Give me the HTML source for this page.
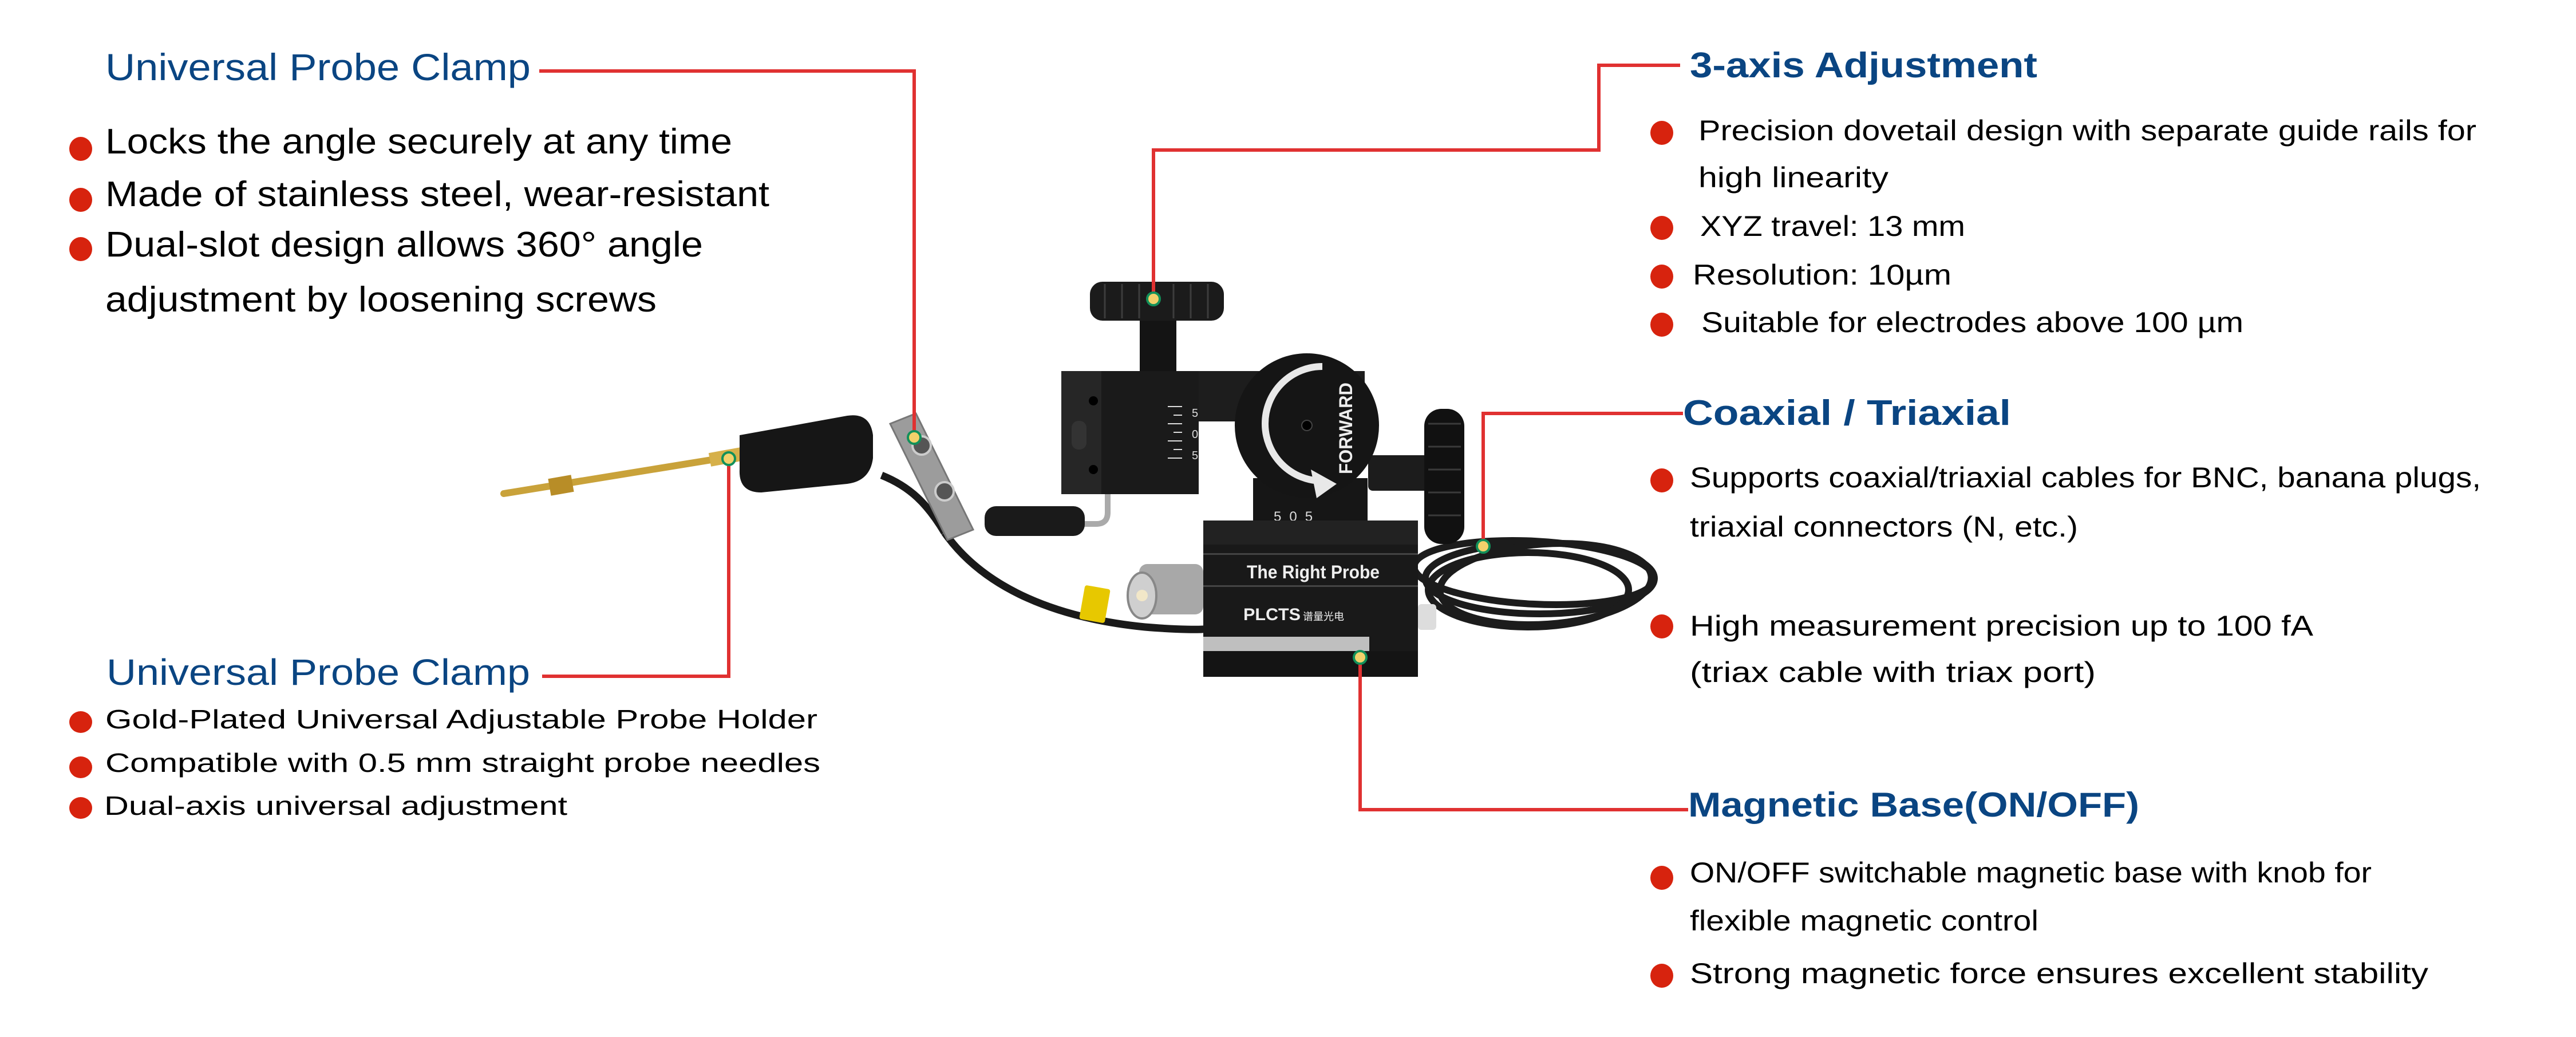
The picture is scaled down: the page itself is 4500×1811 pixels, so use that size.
<!DOCTYPE html>
<html><head><meta charset="utf-8"><style>
html,body{margin:0;padding:0;background:#fff;}
svg{display:block;}
text{font-family:"Liberation Sans","Noto Sans CJK SC",sans-serif;}
</style></head><body>
<svg width="4500" height="1811" viewBox="0 0 4500 1811" xmlns="http://www.w3.org/2000/svg">
<rect width="4500" height="1811" fill="#fff"/>

<!-- ========== PRODUCT ILLUSTRATION ========== -->
<!-- cable coil on right -->
<g fill="none" stroke="#1c1c1c" stroke-width="12">
<ellipse cx="2690" cy="1010" rx="200" ry="62"/>
<ellipse cx="2700" cy="1020" rx="185" ry="70" transform="rotate(-4 2700 1020)"/>
<ellipse cx="2680" cy="1000" rx="210" ry="55" transform="rotate(3 2680 1000)"/>
<ellipse cx="2670" cy="1030" rx="175" ry="65"/>
</g>
<!-- cable from clamp to base -->
<path d="M1650 930 C1720 1030 1850 1080 2000 1095 C2060 1100 2100 1100 2110 1098" fill="none" stroke="#1a1a1a" stroke-width="13"/>
<path d="M1540 830 C1590 850 1620 880 1650 930" fill="none" stroke="#1a1a1a" stroke-width="13"/>

<!-- right knob (side) -->
<rect x="2390" y="795" width="110" height="62" rx="8" fill="#1c1c1c"/>
<rect x="2488" y="714" width="70" height="236" rx="30" fill="#111"/>
<g stroke="#3a3a3a" stroke-width="3">
<line x1="2495" y1="740" x2="2552" y2="740"/><line x1="2495" y1="780" x2="2552" y2="780"/><line x1="2495" y1="820" x2="2552" y2="820"/><line x1="2495" y1="860" x2="2552" y2="860"/><line x1="2495" y1="900" x2="2552" y2="900"/>
</g>

<!-- top knob -->
<rect x="1991" y="552" width="64" height="105" fill="#141414"/>
<rect x="1904" y="492" width="234" height="68" rx="22" fill="#1b1b1b"/>
<g stroke="#3c3c3c" stroke-width="3">
<line x1="1930" y1="496" x2="1930" y2="556"/><line x1="1960" y1="496" x2="1960" y2="556"/><line x1="1990" y1="496" x2="1990" y2="556"/><line x1="2050" y1="496" x2="2050" y2="556"/><line x1="2080" y1="496" x2="2080" y2="556"/><line x1="2110" y1="496" x2="2110" y2="556"/>
</g>

<!-- C bracket -->
<rect x="1854" y="648" width="530" height="88" fill="#1d1d1d"/>
<rect x="1854" y="648" width="240" height="215" fill="#1a1a1a"/>
<rect x="1854" y="648" width="70" height="215" fill="#262626"/>
<circle cx="1910" cy="700" r="8" fill="#000"/>
<circle cx="1910" cy="820" r="8" fill="#000"/>
<rect x="1872" y="735" width="26" height="50" rx="12" fill="#333"/>
<g stroke="#ddd" stroke-width="2">
<line x1="2040" y1="710" x2="2065" y2="710"/><line x1="2050" y1="725" x2="2065" y2="725"/><line x1="2040" y1="740" x2="2065" y2="740"/><line x1="2050" y1="755" x2="2065" y2="755"/><line x1="2040" y1="770" x2="2065" y2="770"/><line x1="2050" y1="785" x2="2065" y2="785"/><line x1="2040" y1="800" x2="2065" y2="800"/>
</g>
<text x="2082" y="728" font-size="20" fill="#ddd">5</text>
<text x="2082" y="765" font-size="20" fill="#ddd">0</text>
<text x="2082" y="802" font-size="20" fill="#ddd">5</text>
<!-- bent pipe -->
<path d="M1935 863 L1935 895 Q1935 915 1915 915 L1890 915" fill="none" stroke="#aaa" stroke-width="10"/>
<rect x="1720" y="884" width="175" height="52" rx="20" fill="#1a1a1a"/>

<!-- block under dial -->
<rect x="2189" y="835" width="200" height="105" fill="#161616"/>
<text x="2225" y="910" font-size="24" fill="#ddd" letter-spacing="14">505</text>

<!-- FORWARD dial -->
<circle cx="2283" cy="743" r="126" fill="#151515"/>
<path d="M2310 640 A100 100 0 1 0 2310 840" fill="none" stroke="#e8e8e8" stroke-width="12"/>
<polygon points="2290,820 2335,845 2300,870" fill="#e8e8e8"/>
<circle cx="2283" cy="743" r="9" fill="#000" stroke="#444" stroke-width="2"/>
<text x="0" y="0" font-size="32" font-weight="bold" fill="#eee" transform="translate(2362 828) rotate(-90)" textLength="160" lengthAdjust="spacingAndGlyphs">FORWARD</text>

<!-- main base -->
<rect x="2102" y="909" width="375" height="273" fill="#191919"/>
<rect x="2102" y="909" width="375" height="42" fill="#222"/>
<rect x="2102" y="966" width="375" height="3" fill="#444"/>
<rect x="2102" y="1022" width="375" height="3" fill="#444"/>
<text x="2178" y="1010" font-size="32" font-weight="bold" fill="#eee" textLength="232" lengthAdjust="spacingAndGlyphs">The Right Probe</text>
<text x="2172" y="1083" font-size="30" font-weight="bold" fill="#eee" textLength="100" lengthAdjust="spacingAndGlyphs">PLCTS</text>
<text x="2276" y="1083" font-size="18" fill="#eee">谱量光电</text>
<rect x="2102" y="1112" width="290" height="25" fill="#bfbfbf"/>
<rect x="2102" y="1137" width="375" height="45" fill="#141414"/>
<rect x="2477" y="1055" width="32" height="45" rx="6" fill="#ddd"/>

<!-- BNC connector -->
<rect x="1990" y="985" width="112" height="88" rx="14" fill="#a8a8a8"/>
<ellipse cx="1995" cy="1040" rx="25" ry="40" fill="#cfcfcf" stroke="#888" stroke-width="4"/>
<circle cx="1995" cy="1040" r="10" fill="#f2e7c8"/>
<!-- yellow tag -->
<rect x="1890" y="1025" width="45" height="60" rx="4" fill="#e7c800" transform="rotate(10 1912 1055)"/>

<!-- gold probe -->
<line x1="880" y1="862" x2="1280" y2="797" stroke="#c9a23a" stroke-width="12" stroke-linecap="round"/>
<line x1="960" y1="851" x2="1000" y2="844" stroke="#b88d27" stroke-width="30"/>
<line x1="1240" y1="803" x2="1295" y2="793" stroke="#d6b04a" stroke-width="24"/>
<!-- black handle -->
<path d="M1292 760 L1480 726 Q1520 720 1525 760 L1525 800 Q1520 840 1480 845 L1330 860 Q1290 860 1292 820 Z" fill="#161616"/>
<!-- silver clamp bar -->
<polygon points="1555,740 1600,722 1700,925 1655,943" fill="#9c9c9c" stroke="#777" stroke-width="3"/>
<circle cx="1610" cy="778" r="16" fill="#555" stroke="#ccc" stroke-width="4"/>
<circle cx="1650" cy="858" r="16" fill="#555" stroke="#ccc" stroke-width="4"/>

<!-- ========== CONNECTORS ========== -->
<g fill="none" stroke="#e03131" stroke-width="6">
<polyline points="942,124 1597,124 1597,764"/>
<polyline points="947,1181 1273,1181 1273,801"/>
<polyline points="2935,114 2793,114 2793,262 2015,262 2015,522"/>
<polyline points="2940,722 2591,722 2591,954"/>
<polyline points="2949,1414 2376,1414 2376,1148"/>
</g>
<g>
<circle cx="1597" cy="764" r="11" fill="#f2d16b" stroke="#12905a" stroke-width="4"/>
<circle cx="1273" cy="801" r="11" fill="#f2d16b" stroke="#12905a" stroke-width="4"/>
<circle cx="2015" cy="522" r="11" fill="#f2d16b" stroke="#12905a" stroke-width="4"/>
<circle cx="2591" cy="954" r="11" fill="#f2d16b" stroke="#12905a" stroke-width="4"/>
<circle cx="2376" cy="1148" r="11" fill="#f2d16b" stroke="#12905a" stroke-width="4"/>
</g>

<!-- ========== TEXT: TOP LEFT ========== -->
<text x="184" y="140" font-size="66" fill="#0a4582" textLength="743" lengthAdjust="spacingAndGlyphs">Universal Probe Clamp</text>
<g fill="#d7230e">
<ellipse cx="141" cy="260" rx="20" ry="21"/><ellipse cx="141" cy="349" rx="20" ry="21"/><ellipse cx="141" cy="435" rx="20" ry="21"/>
</g>
<g font-size="62" fill="#000">
<text x="184" y="268" textLength="1095" lengthAdjust="spacingAndGlyphs">Locks the angle securely at any time</text>
<text x="184" y="360" textLength="1160" lengthAdjust="spacingAndGlyphs">Made of stainless steel, wear-resistant</text>
<text x="184" y="448" textLength="1044" lengthAdjust="spacingAndGlyphs">Dual-slot design allows 360° angle</text>
<text x="184" y="544" textLength="963" lengthAdjust="spacingAndGlyphs">adjustment by loosening screws</text>
</g>

<!-- ========== TEXT: BOTTOM LEFT ========== -->
<text x="186" y="1196" font-size="64" fill="#0a4582" textLength="740" lengthAdjust="spacingAndGlyphs">Universal Probe Clamp</text>
<g fill="#d7230e">
<ellipse cx="141" cy="1261" rx="20" ry="19"/><ellipse cx="141" cy="1340" rx="20" ry="19"/><ellipse cx="141" cy="1411" rx="20" ry="19"/>
</g>
<g font-size="46" fill="#000">
<text x="184" y="1272" textLength="1244" lengthAdjust="spacingAndGlyphs">Gold-Plated Universal Adjustable Probe Holder</text>
<text x="184" y="1348" textLength="1249" lengthAdjust="spacingAndGlyphs">Compatible with 0.5 mm straight probe needles</text>
<text x="182" y="1423" textLength="809" lengthAdjust="spacingAndGlyphs">Dual-axis universal adjustment</text>
</g>

<!-- ========== TEXT: RIGHT ========== -->
<g font-weight="bold" fill="#0a4582">
<text x="2952" y="135" font-size="62" textLength="607" lengthAdjust="spacingAndGlyphs">3-axis Adjustment</text>
<text x="2940" y="742" font-size="62" textLength="573" lengthAdjust="spacingAndGlyphs">Coaxial / Triaxial</text>
<text x="2949" y="1426" font-size="60" textLength="788" lengthAdjust="spacingAndGlyphs">Magnetic Base(ON/OFF)</text>
</g>
<g fill="#d7230e">
<ellipse cx="2903" cy="232" rx="20" ry="21"/>
<ellipse cx="2903" cy="398" rx="20" ry="21"/>
<ellipse cx="2903" cy="483" rx="20" ry="21"/>
<ellipse cx="2903" cy="567" rx="20" ry="21"/>
<ellipse cx="2903" cy="839" rx="20" ry="21"/>
<ellipse cx="2903" cy="1094" rx="20" ry="21"/>
<ellipse cx="2903" cy="1533" rx="20" ry="21"/>
<ellipse cx="2903" cy="1704" rx="20" ry="21"/>
</g>
<g font-size="50" fill="#000">
<text x="2967" y="245" textLength="1359" lengthAdjust="spacingAndGlyphs">Precision dovetail design with separate guide rails for</text>
<text x="2967" y="327" textLength="332" lengthAdjust="spacingAndGlyphs">high linearity</text>
<text x="2970" y="412" textLength="463" lengthAdjust="spacingAndGlyphs">XYZ travel: 13 mm</text>
<text x="2957" y="497" textLength="452" lengthAdjust="spacingAndGlyphs">Resolution: 10µm</text>
<text x="2972" y="580" textLength="947" lengthAdjust="spacingAndGlyphs">Suitable for electrodes above 100 µm</text>
<text x="2952" y="851" textLength="1382" lengthAdjust="spacingAndGlyphs">Supports coaxial/triaxial cables for BNC, banana plugs,</text>
<text x="2952" y="937" textLength="678" lengthAdjust="spacingAndGlyphs">triaxial connectors (N, etc.)</text>
<text x="2952" y="1110" textLength="1089" lengthAdjust="spacingAndGlyphs">High measurement precision up to 100 fA</text>
<text x="2952" y="1191" textLength="709" lengthAdjust="spacingAndGlyphs">(triax cable with triax port)</text>
<text x="2952" y="1541" textLength="1191" lengthAdjust="spacingAndGlyphs">ON/OFF switchable magnetic base with knob for</text>
<text x="2952" y="1625" textLength="609" lengthAdjust="spacingAndGlyphs">flexible magnetic control</text>
<text x="2952" y="1717" textLength="1290" lengthAdjust="spacingAndGlyphs">Strong magnetic force ensures excellent stability</text>
</g>
</svg>
</body></html>
